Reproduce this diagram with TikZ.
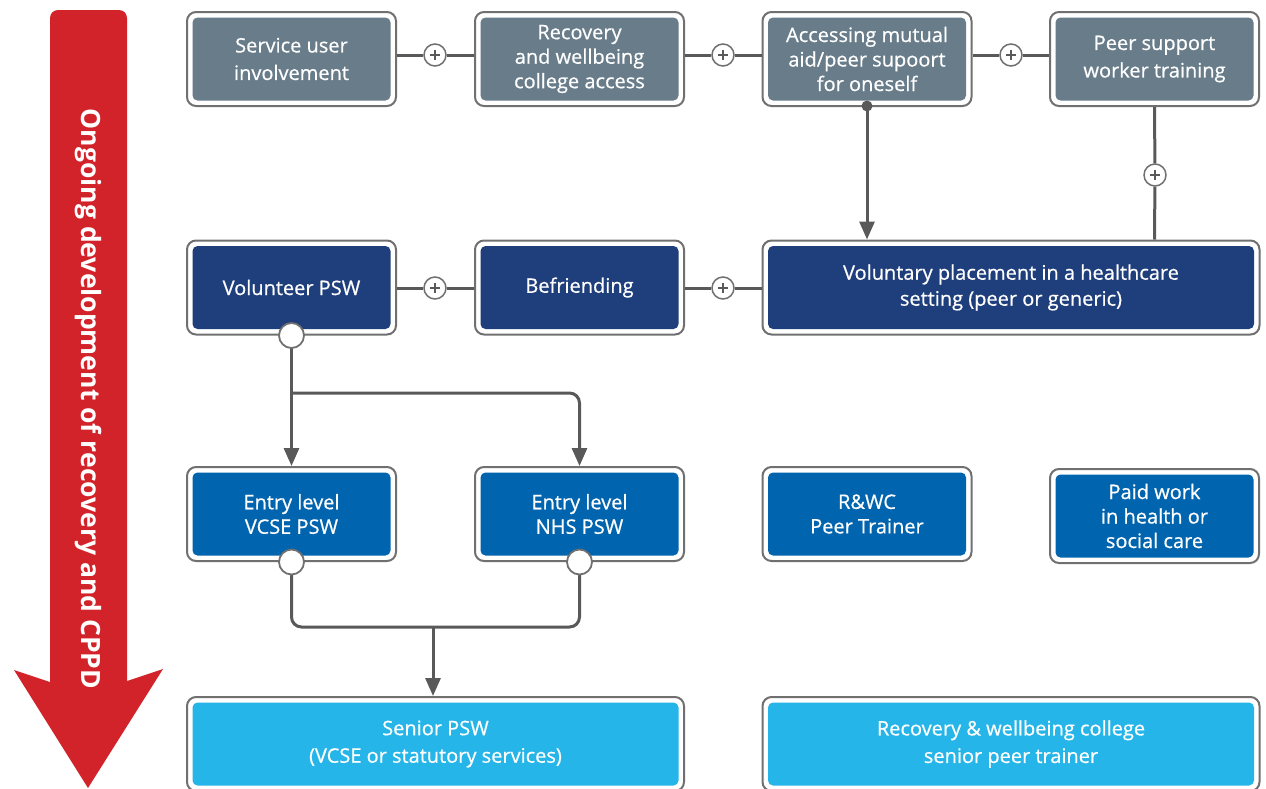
\documentclass[tikz,border=0pt]{standalone}
\usepackage{fontspec}
\setmainfont{Open Sans}
\usetikzlibrary{arrows.meta}

\definecolor{slate}{HTML}{687C8A}
\definecolor{navy}{HTML}{1F3E7C}
\definecolor{midblue}{HTML}{0064AE}
\definecolor{skyblue}{HTML}{25B5E8}
\definecolor{arrowred}{HTML}{D2232A}
\definecolor{linegray}{HTML}{595959}
\definecolor{cardedge}{HTML}{707070}

\tikzset{
  card/.style={draw=cardedge, line width=2pt, fill=white, rounded corners=9pt,
    minimum height=94pt, minimum width=209pt, text=white, align=center,
    font=\fontsize{20}{27.5}\selectfont\addfontfeature{FakeBold=0.6}, inner sep=0pt,
    path picture={\fill[#1, rounded corners=5pt]
      ([shift={(5.5pt,5.5pt)}]path picture bounding box.south west) rectangle
      ([shift={(-5.5pt,-5.5pt)}]path picture bounding box.north east);}},
  widecard/.style={card=#1, minimum width=497pt},
  threeline/.style={font=\fontsize{20}{24.5}\selectfont\addfontfeature{FakeBold=0.6}},
  plus/.style={circle, draw=cardedge, line width=1.5pt, fill=white,
    minimum size=22pt, inner sep=0pt,
    path picture={\draw[linegray, line width=1.2pt]
      ([xshift=-5pt]path picture bounding box.center) -- ([xshift=5pt]path picture bounding box.center)
      ([yshift=-5pt]path picture bounding box.center) -- ([yshift=5pt]path picture bounding box.center);}},
  ring/.style={circle, draw=cardedge, line width=1.8pt, fill=white,
    minimum size=25pt, inner sep=0pt},
  dot/.style={circle, fill=linegray, minimum size=11pt, inner sep=0pt},
  conn/.style={draw=linegray, line width=3pt},
  arr/.style={conn, -{Triangle[length=18pt, width=15pt]}},
}

\begin{document}
\begin{tikzpicture}[x=1pt, y=-1pt]
\useasboundingbox (0,0) rectangle (1266,788);

% progression arrow on the left
\fill[arrowred] (50,682) [rounded corners=8pt] -- (50,10) -- (127,10)
  [sharp corners] -- (127,681) -- (163,669) -- (88,788) -- (14,670) -- cycle;
\node[rotate=-90, text=white, font=\fontsize{26.5}{26.5}\bfseries\selectfont]
  (ongoing) at (88,399) {Ongoing development of recovery and CPPD};

% row 1
\node[card=slate] (sui) at (291.5,59) {Service user\\involvement};
\node[card=slate, threeline] (rwc) at (579.5,59) {Recovery\\and wellbeing\\college access};
\node[card=slate, threeline] (mut) at (867,59) {Accessing mutual\\aid/peer supoort\\for oneself};
\node[card=slate] (pst) at (1154.5,59) {Peer support\\worker training};

% row 2
\node[card=navy] (vol) at (291.5,287.5) {Volunteer PSW};
\node[card=navy] (bef) at (579.5,287.5) {Befriending};
\node[widecard=navy, font=\fontsize{20}{26}\selectfont\addfontfeature{FakeBold=0.6}] (vp) at (1011,287.5) {Voluntary placement in a healthcare\\setting (peer or generic)};

% row 3
\node[card=midblue, threeline] (vcse) at (291.5,514) {Entry level\\VCSE PSW};
\node[card=midblue, threeline] (nhs) at (579.5,514) {Entry level\\NHS PSW};
\node[card=midblue, threeline] (rwct) at (867,514) {R\&WC\\Peer Trainer};
\node[card=midblue, threeline] (paid) at (1154.5,516) {Paid work\\in health or\\social care};

% row 4
\node[widecard=skyblue] (senior) at (435.5,744) {Senior PSW\\(VCSE or statutory services)};
\node[widecard=skyblue] (rwsen) at (1011,744) {Recovery \& wellbeing college\\senior peer trainer};

% junction markers
\node[plus] (p1) at (435,55) {};
\node[plus] (p2) at (723,55) {};
\node[plus] (p3) at (1011,55) {};
\node[plus] (p4) at (435,288) {};
\node[plus] (p5) at (723,288) {};
\node[plus] (p6) at (1155,175) {};
\node[dot] (d1) at (867,106) {};
\coordinate (split) at (291.5,393);
\coordinate (merge) at (433,627);

% connectors in row 1
\draw[conn] (sui.east |- p1) -- (p1) -- (rwc.west |- p1);
\draw[conn] (rwc.east |- p1) -- (p2) -- (mut.west |- p2);
\draw[conn] (mut.east |- p3) -- (p3) -- (pst.west |- p3);

% connectors in row 2
\draw[conn] (vol.east |- p4) -- (p4) -- (bef.west |- p4);
\draw[conn] (bef.east |- p5) -- (p5) -- (vp.west |- p5);

% into the voluntary placement
\draw[arr] (d1.center) -- (d1 |- vp.north);
\draw[conn] (pst.south) -- (p6) -- (pst.south |- vp.north);

% volunteer PSW branching
\draw[arr] (vol.south) -- (vcse.north);
\draw[arr, rounded corners=10pt] (split) -| (nhs.north);

% entry level roles merging
\draw[conn, rounded corners=10pt] (vcse.south) |- (merge) -| (nhs.south);
\draw[arr] (merge) -- (merge |- senior.north);

\node[ring] (r0) at (vol.south) {};
\node[ring] (r1) at (vcse.south) {};
\node[ring] (r2) at (nhs.south) {};
\end{tikzpicture}
\end{document}
